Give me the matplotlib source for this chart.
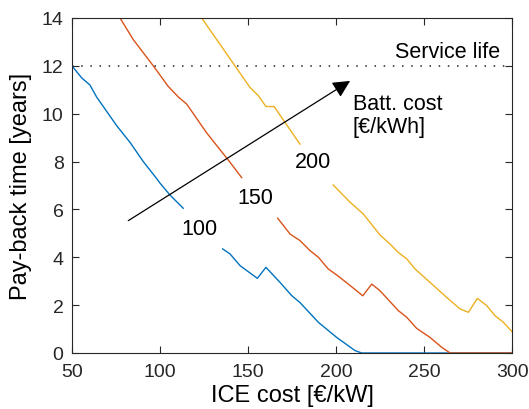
import numpy as np
import matplotlib.pyplot as plt

plt.rcParams['font.family'] = ['Liberation Sans', 'DejaVu Sans']

nan = np.nan

# ICE cost [EUR/kW] vs pay-back time [years], one curve per battery cost
x_100 = [50, 55.5, 60.2, 64, 69.7, 75.4, 83, 90.5, 98, 100, 105.7, 113.2, nan,
         135.6, 139.8, 145.5, 155.3, 160.2, 168.2, 174.8, 179.5, 190, 200.4,
         210.8, 214.6, 300]
y_100 = [12, 11.5, 11.2, 10.7, 10.1, 9.5, 8.8, 8.0, 7.3, 7.1, 6.6, 6.05, nan,
         4.35, 4.14, 3.65, 3.12, 3.58, 2.95, 2.4, 2.11, 1.28, 0.65,
         0.1, 0, 0]

x_150 = [77.3, 84.8, 96.2, 104.7, 110.4, 115.2, 126.5, 139.8, 146.4, nan,
         166.9, 173.9, 179.5, 185.2, 190, 195.6, 200.4, 207, 215.2, 220.3,
         225, 235.4, 240.2, 245.8, 253.4, 260, 264.8, 300]
y_150 = [14, 13.1, 12.0, 11.14, 10.7, 10.4, 9.2, 7.97, 7.33, nan,
         5.63, 4.97, 4.7, 4.28, 4.0, 3.51, 3.26, 2.88, 2.39, 2.88,
         2.6, 1.77, 1.49, 1.03, 0.65, 0.24, 0, 0]

x_200 = [123.7, 130.3, 142.6, 151.1, 155.9, 160.2, 164.8, 171, 179.5, nan,
         198.4, 208, 215.5, 225, 230.7, 235.4, 240.2, 244.9, 253.4, 262.9,
         270.5, 275.2, 280.3, 285.6, 290.3, 295.1, 300]
y_200 = [14, 13.3, 12.0, 11.1, 10.75, 10.3, 10.3, 9.64, 8.73, nan,
         7.02, 6.3, 5.81, 4.93, 4.55, 4.2, 3.93, 3.51, 2.95, 2.32,
         1.84, 1.70, 2.28, 1.98, 1.56, 1.28, 0.89]

service_life = 12
curve_labels = ['100', '150', '200']
label_pos = [(122.7, 5.2), (154, 6.5), (187, 8.0)]

fig = plt.figure(figsize=(5.29, 4.10), dpi=100)
ax = fig.add_axes([0.136, 0.1366, 0.832, 0.8171])

ax.plot(x_100, y_100, color='#0072BD', lw=1.0)
ax.plot(x_150, y_150, color='#D95319', lw=1.0)
ax.plot(x_200, y_200, color='#EDB120', lw=1.0)

ax.axhline(service_life, color='#262626', lw=1.1, linestyle=(0, (1, 5)))
ax.text(293, 12.15, 'Service life', ha='right', va='bottom', fontsize=15.5)

for lab, (lx, ly) in zip(curve_labels, label_pos):
    ax.text(lx, ly, lab, ha='center', va='center', fontsize=15.5)

ax.annotate('', xy=(208, 11.37), xytext=(82, 5.53),
            arrowprops=dict(arrowstyle='-|>', color='k', lw=0.9,
                            mutation_scale=26, shrinkA=0, shrinkB=0))
ax.text(209.5, 9.95, 'Batt. cost\n[€/kWh]', ha='left', va='center',
        fontsize=15.5, linespacing=1.1)

ax.set_xlim(50, 300)
ax.set_ylim(0, 14)
ax.set_xticks(range(50, 301, 50))
ax.set_yticks(range(0, 15, 2))
ax.set_xlabel('ICE cost [€/kW]', fontsize=17, labelpad=3)
ax.set_ylabel('Pay-back time [years]', fontsize=17, labelpad=7)
ax.tick_params(direction='in', top=True, right=True, length=5, width=0.8,
               labelsize=14, colors='#262626')
ax.tick_params(axis='x', pad=7)
ax.tick_params(axis='y', pad=6)
for s in ax.spines.values():
    s.set_color('#262626')
    s.set_linewidth(0.8)

fig.savefig('out.png', dpi=100)
